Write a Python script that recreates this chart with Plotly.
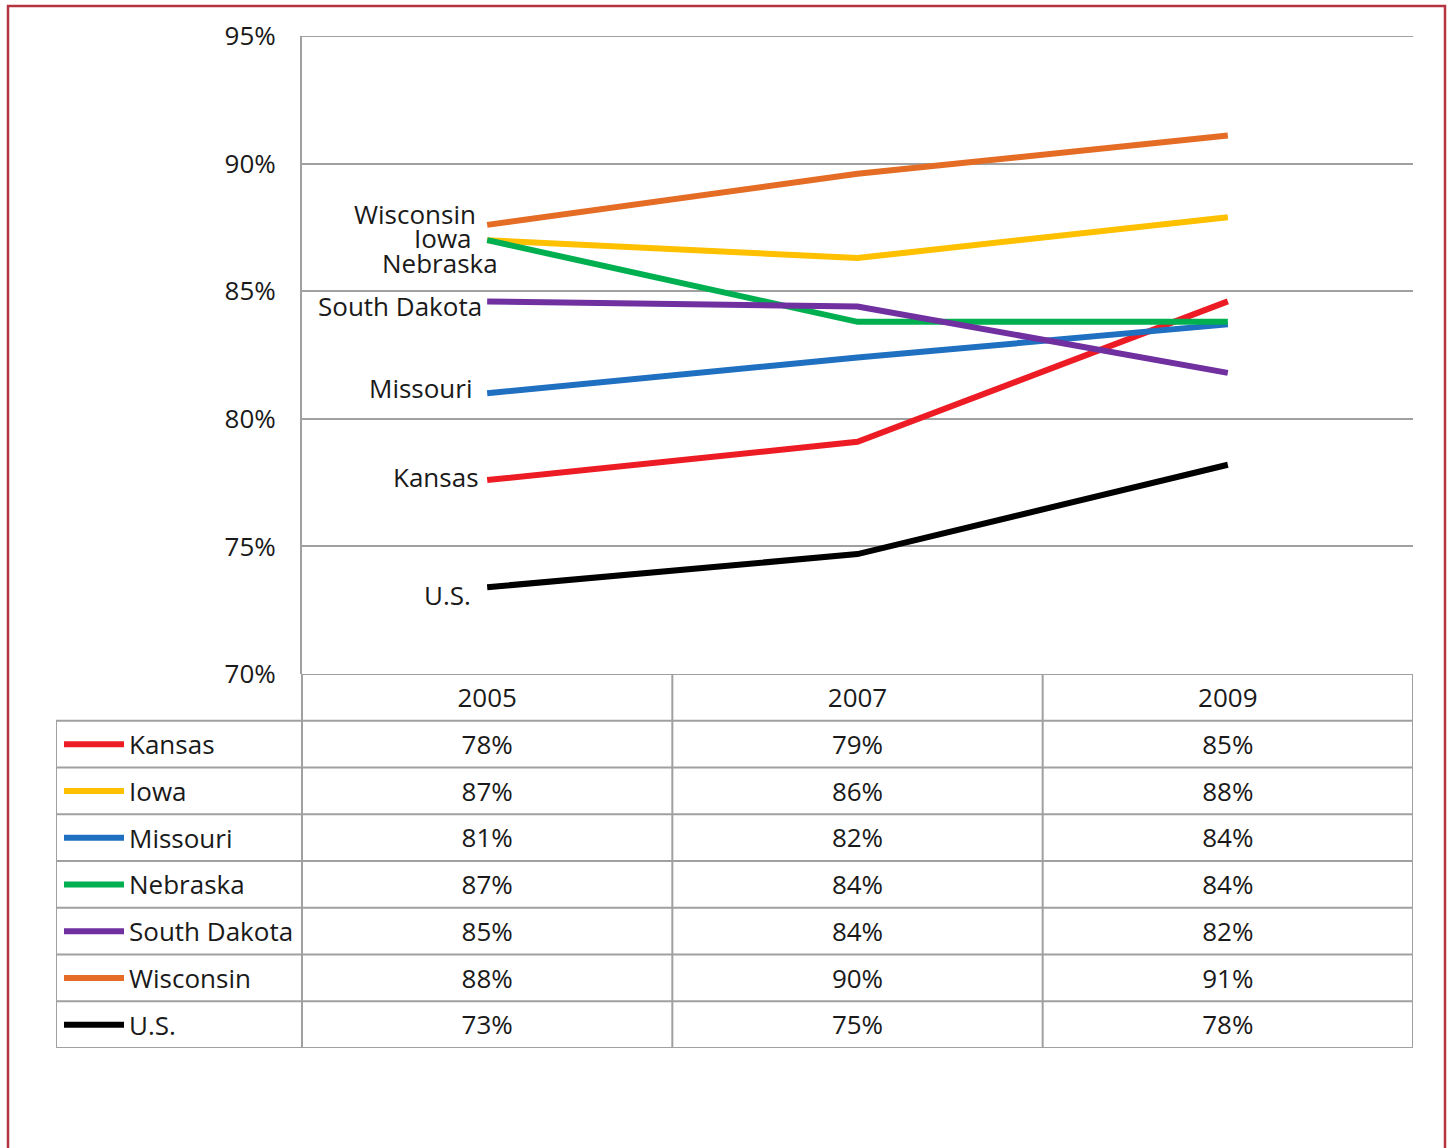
import plotly.graph_objects as go

# ---------------- data ----------------
years = ["2005", "2007", "2009"]
states = ["Kansas", "Iowa", "Missouri", "Nebraska", "South Dakota", "Wisconsin", "U.S."]
kansas = [77.6, 79.1, 84.6]
iowa = [87.0, 86.3, 87.9]
missouri = [81.0, 82.4, 83.7]
nebraska = [87.0, 83.8, 83.8]
south_dakota = [84.6, 84.4, 81.8]
wisconsin = [87.6, 89.6, 91.1]
us = [73.4, 74.7, 78.2]
series = [kansas, iowa, missouri, nebraska, south_dakota, wisconsin, us]
y_ticks = [70, 75, 80, 85, 90, 95]
y_ticktext = ["70%", "75%", "80%", "85%", "90%", "95%"]

# ---------------- style ----------------
colors = ["#ed1c24", "#ffc000", "#1f70c1", "#00b050", "#7030a0", "#e46c24", "#000000"]
# label offsets (px) for in-plot series labels: (xshift, yshift)
label_shift = [(-6, 3), (-13, 2), (-12, 5), (13, -23), (-3, -5), (-9, 11), (-14, -8)]

W, H = 1450, 1148
PL, PR, PT, PB = 302, 1413, 36, 674   # plot area pixels
TL, TB = 56, 1048                     # table left / bottom pixels
GRID = "#a0a0a0"
TXT = "#1a1a1a"
FONT = "Open Sans"
FS = 26
TEXT_NUDGE = 0.07   # small downward nudge of table text (row units)

unit = (PR - PL) / 3.0
def px2u(px):
    return -0.5 + (px - PL) / unit

x2_min = px2u(TL)
n_rows = len(states) + 1
xi = list(range(len(years)))

fig = go.Figure()

# main lines
for name, vals, col in zip(states, series, colors):
    fig.add_trace(go.Scatter(x=xi, y=vals, mode="lines", name=name,
                             line=dict(color=col, width=6), xaxis="x", yaxis="y",
                             showlegend=False, hoverinfo="skip"))

# in-plot labels
for name, vals, (dx, dy) in zip(states, series, label_shift):
    fig.add_annotation(x=xi[0], y=vals[0], xref="x", yref="y", text=name,
                       showarrow=False, xanchor="right", yanchor="middle",
                       xshift=dx, yshift=dy, font=dict(family=FONT, size=FS, color=TXT))

# table: header
fig.add_trace(go.Scatter(x=xi, y=[0.5 + TEXT_NUDGE] * len(years), text=years,
                         mode="text", textposition="middle center",
                         textfont=dict(family=FONT, size=FS, color=TXT),
                         xaxis="x2", yaxis="y2", showlegend=False, hoverinfo="skip"))
# table: value cells
for r, vals in enumerate(series):
    fig.add_trace(go.Scatter(x=xi, y=[r + 1.5 + TEXT_NUDGE] * len(years),
                             text=["%d%%" % int(v + 0.5) for v in vals],
                             mode="text", textposition="middle center",
                             textfont=dict(family=FONT, size=FS, color=TXT),
                             xaxis="x2", yaxis="y2", showlegend=False, hoverinfo="skip"))
# table: legend keys + row labels
for r, (name, col) in enumerate(zip(states, colors)):
    fig.add_trace(go.Scatter(x=[px2u(64), px2u(124)], y=[r + 1.5, r + 1.5], mode="lines",
                             line=dict(color=col, width=6), xaxis="x2", yaxis="y2",
                             showlegend=False, hoverinfo="skip"))
    fig.add_annotation(x=px2u(127), y=r + 1.5, xref="x2", yref="y2", text=name,
                       showarrow=False, xanchor="left", yanchor="middle",
                       font=dict(family=FONT, size=FS, color=TXT))

# table borders
shapes = []
for k in range(n_rows + 1):
    x0 = -0.5 if k == 0 else x2_min
    shapes.append(dict(type="line", xref="x2", yref="y2", x0=x0, x1=2.5, y0=k, y1=k,
                       line=dict(color=GRID, width=2), layer="below"))
for xv in [-0.5, 0.5, 1.5, 2.5]:
    shapes.append(dict(type="line", xref="x2", yref="y2", x0=xv, x1=xv, y0=0, y1=n_rows,
                       line=dict(color=GRID, width=2), layer="below"))
shapes.append(dict(type="line", xref="x2", yref="y2", x0=x2_min, x1=x2_min, y0=1, y1=n_rows,
                   line=dict(color=GRID, width=2), layer="below"))
# top gridline (95%)
shapes.append(dict(type="line", xref="x domain", yref="y", x0=0, x1=1, y0=y_ticks[-1],
                   y1=y_ticks[-1], line=dict(color=GRID, width=2), layer="below"))
# outer frame
shapes.append(dict(type="rect", xref="paper", yref="paper", x0=8 / W, x1=1445 / W,
                   y0=-0.02, y1=1 - 6 / H, line=dict(color="#b5343f", width=2.5)))

fig.update_layout(
    template="none",
    width=W, height=H,
    margin=dict(l=0, r=0, t=0, b=0, pad=0, autoexpand=False),
    paper_bgcolor="white", plot_bgcolor="white",
    shapes=shapes,
    xaxis=dict(domain=[PL / W, PR / W], range=[-0.5, 2.5], automargin=False,
               showticklabels=False, showgrid=False, zeroline=False, showline=False,
               ticks="", anchor="y"),
    yaxis=dict(domain=[1 - PB / H, 1 - PT / H], range=[70, 95], tickvals=y_ticks,
               ticktext=y_ticktext, showgrid=True, gridcolor=GRID, gridwidth=2,
               zeroline=False, showline=True, linecolor=GRID, linewidth=2,
               ticks="", ticklabelstandoff=19, automargin=False,
               tickfont=dict(family=FONT, size=FS, color=TXT), anchor="x"),
    xaxis2=dict(domain=[TL / W, PR / W], range=[x2_min, 2.5], visible=False,
                automargin=False, anchor="y2"),
    yaxis2=dict(domain=[1 - TB / H, 1 - PB / H], range=[n_rows, 0], visible=False,
                automargin=False, anchor="x2"),
)

fig.write_html("out.html", config={"displayModeBar": False},
               post_script="document.body.style.margin='0';")
